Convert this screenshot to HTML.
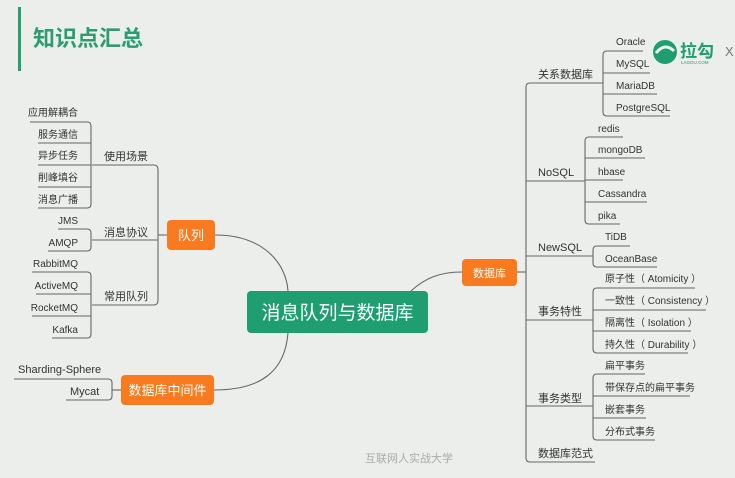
<!DOCTYPE html>
<html><head><meta charset="utf-8"><style>
html,body{margin:0;padding:0;background:#eceeeb;}
svg{display:block;font-family:"Liberation Sans","Noto Sans CJK SC",sans-serif;}
</style></head><body>
<svg width="735" height="478" viewBox="0 0 735 478" xmlns="http://www.w3.org/2000/svg">
<rect width="735" height="478" fill="#eceeeb"/>
<rect x="18" y="7" width="3" height="64" fill="#25a070"/>
<text x="33" y="46" font-size="22" fill="#2a9d72" font-weight="bold">知识点汇总</text>

<!-- logo -->
<circle cx="665" cy="52" r="12" fill="#1f9e72"/>
<path d="M656,53 Q665,42 674,51" stroke="#eceeeb" stroke-width="3" fill="none"/>
<text x="680" y="57" font-size="17" fill="#1f9e72" font-weight="bold">拉勾</text>
<text x="681" y="64" font-size="4.5" fill="#1f9e72">LAGOU.COM</text>
<text x="725" y="56" font-size="13" fill="#777">X</text>

<g stroke="#666" stroke-width="1.1" fill="none">
<path d="M215,235 C262,235 286,262 288,291"/>
<path d="M288,333 C285,372 260,390 214,390"/>
<path d="M411,291 C425,278 440,272 462,272"/>
<path d="M158,170 V300"/><path d="M158,235 H167"/>
<path d="M92,165 H154 Q158,165 158,170"/>
<path d="M92,240 H158"/>
<path d="M92,305 H154 Q158,305 158,300"/>
<path d="M91,126 V204"/>
<path d="M30,122 H87 Q91,122 91,126"/><path d="M38,143 H91"/><path d="M38,165 H91"/><path d="M38,187 H91"/><path d="M38,208 H87 Q91,208 91,204"/>
<path d="M91,233 V247"/>
<path d="M58,229 H87 Q91,229 91,233"/><path d="M48,251 H87 Q91,251 91,247"/>
<path d="M91,276 V334"/>
<path d="M32,272 H87 Q91,272 91,276"/><path d="M36,294 H91"/><path d="M32,316 H91"/><path d="M52,338 H87 Q91,338 91,334"/>
<path d="M112,383 V396"/><path d="M112,390 H121"/>
<path d="M14,379 H108 Q112,379 112,383"/><path d="M66,400 H108 Q112,400 112,396"/>
<path d="M526,87 V458"/><path d="M517,272 H526"/>
<path d="M530,83 H603 M526,87 Q526,83 530,83"/>
<path d="M526,181 H585"/><path d="M526,256 H593"/><path d="M526,320 H593"/><path d="M526,406 H593"/>
<path d="M526,458 Q526,462 530,462 H595"/>
<path d="M603,55 V112"/>
<path d="M607,51 H643 M603,55 Q603,51 607,51"/><path d="M603,73 H650"/><path d="M603,94 H657"/><path d="M603,112 Q603,116 607,116 H670"/>
<path d="M585,141 V220"/>
<path d="M589,137 H623 M585,141 Q585,137 589,137"/><path d="M585,158 H645"/><path d="M585,180 H623"/><path d="M585,202 H647"/><path d="M585,220 Q585,224 589,224 H620"/>
<path d="M593,250 V263"/>
<path d="M597,246 H630 M593,250 Q593,246 597,246"/><path d="M593,263 Q593,267 597,267 H657"/>
<path d="M593,292 V349"/>
<path d="M597,288 H695 M593,292 Q593,288 597,288"/><path d="M593,310 H706"/><path d="M593,331 H691"/><path d="M593,349 Q593,353 597,353 H688"/>
<path d="M593,378 V436"/>
<path d="M597,374 H645 M593,378 Q593,374 597,374"/><path d="M593,396 H690"/><path d="M593,418 H646"/><path d="M593,436 Q593,440 597,440 H655"/>
</g>

<rect x="247" y="291" width="181" height="42" rx="4" fill="#1f9e72"/>
<text x="337.5" y="319" font-size="19" fill="#fff" text-anchor="middle">消息队列与数据库</text>
<rect x="167" y="220" width="48" height="30" rx="4" fill="#f97a1f"/>
<text x="191" y="240" font-size="13" fill="#fff" text-anchor="middle">队列</text>
<rect x="121" y="375" width="93" height="30" rx="4" fill="#f97a1f"/>
<text x="167.5" y="395" font-size="13" fill="#fff" text-anchor="middle">数据库中间件</text>
<rect x="462" y="259" width="55" height="27" rx="4" fill="#f97a1f"/>
<text x="489.5" y="277" font-size="11" fill="#fff" text-anchor="middle">数据库</text>

<g font-size="11" fill="#333">
<text x="104" y="160">使用场景</text>
<text x="104" y="236">消息协议</text>
<text x="104" y="300">常用队列</text>
<text x="538" y="78">关系数据库</text>
<text x="538" y="176">NoSQL</text>
<text x="538" y="251">NewSQL</text>
<text x="538" y="315">事务特性</text>
<text x="538" y="402">事务类型</text>
<text x="538" y="457">数据库范式</text>
<text x="18" y="373">Sharding-Sphere</text>
<text x="70" y="395">Mycat</text>
</g>
<g font-size="10" fill="#333">
<g text-anchor="end">
<text x="78" y="116">应用解耦合</text>
<text x="78" y="138">服务通信</text>
<text x="78" y="159">异步任务</text>
<text x="78" y="181">削峰填谷</text>
<text x="78" y="203">消息广播</text>
<text x="78" y="224">JMS</text>
<text x="78" y="246">AMQP</text>
<text x="78" y="267">RabbitMQ</text>
<text x="78" y="289">ActiveMQ</text>
<text x="78" y="311">RocketMQ</text>
<text x="78" y="333">Kafka</text>
</g>
<text x="616" y="45">Oracle</text>
<text x="616" y="67">MySQL</text>
<text x="616" y="89">MariaDB</text>
<text x="616" y="111">PostgreSQL</text>
<text x="598" y="132">redis</text>
<text x="598" y="153">mongoDB</text>
<text x="598" y="175">hbase</text>
<text x="598" y="197">Cassandra</text>
<text x="598" y="219">pika</text>
<text x="605" y="240">TiDB</text>
<text x="605" y="262">OceanBase</text>
<text x="605" y="282">原子性（ Atomicity ）</text>
<text x="605" y="304">一致性（ Consistency ）</text>
<text x="605" y="326">隔离性（ Isolation ）</text>
<text x="605" y="348">持久性（ Durability ）</text>
<text x="605" y="369">扁平事务</text>
<text x="605" y="391">带保存点的扁平事务</text>
<text x="605" y="413">嵌套事务</text>
<text x="605" y="435">分布式事务</text>
</g>
<text x="409" y="462" font-size="11" fill="#aaa" text-anchor="middle">互联网人实战大学</text>
</svg>
</body></html>
